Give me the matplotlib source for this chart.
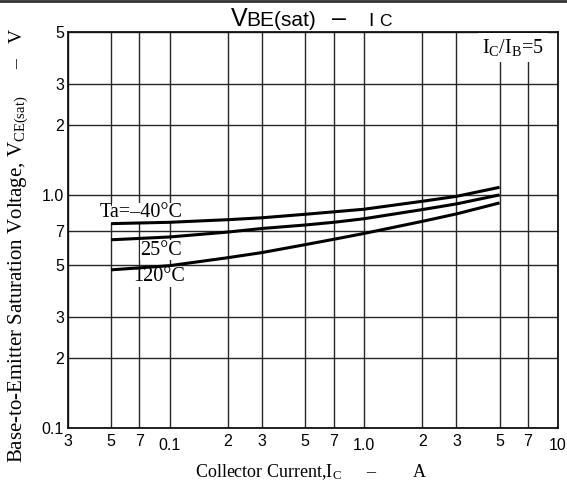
import matplotlib
matplotlib.use("Agg")
import matplotlib.pyplot as plt
from matplotlib.ticker import FixedLocator, FixedFormatter, NullFormatter

# ---- data ----
ic = [0.05, 0.1, 0.2, 0.3, 0.5, 0.7, 1.0, 2.0, 3.0, 5.0]
v_m40 = [0.753, 0.763, 0.783, 0.798, 0.826, 0.846, 0.868, 0.939, 0.986, 1.078]
v_25 = [0.642, 0.660, 0.693, 0.718, 0.743, 0.763, 0.790, 0.865, 0.915, 1.000]
v_120 = [0.477, 0.497, 0.538, 0.566, 0.612, 0.645, 0.683, 0.770, 0.829, 0.924]

x_major = [0.1, 1.0, 10.0]
x_major_labels = ["0.1", "1.0", "10"]
x_minor = [0.03, 0.05, 0.07, 0.2, 0.3, 0.5, 0.7, 2, 3, 5, 7]
x_minor_labels = ["3", "5", "7", "2", "3", "5", "7", "2", "3", "5", "7"]
y_ticks = [0.1, 0.2, 0.3, 0.5, 0.7, 1.0, 2, 3, 5]
y_labels = ["0.1", "2", "3", "5", "7", "1.0", "2", "3", "5"]

SANS = "Liberation Sans"
SERIF = "Liberation Serif"
W, H = 567, 488


def fx(px):
    return px / W


def fy(py):
    return 1 - py / H


fig = plt.figure(figsize=(W / 100, H / 100), dpi=100)
ax = fig.add_axes([fx(68), fy(428), (558 - 68) / W, (428 - 32) / H])
ax.set_xscale("log")
ax.set_yscale("log")
ax.set_xlim(0.03, 10)
ax.set_ylim(0.1, 5)

ax.xaxis.set_major_locator(FixedLocator(x_major))
ax.xaxis.set_major_formatter(FixedFormatter(x_major_labels))
ax.xaxis.set_minor_locator(FixedLocator(x_minor))
ax.xaxis.set_minor_formatter(FixedFormatter(x_minor_labels))
ax.yaxis.set_major_locator(FixedLocator(y_ticks))
ax.yaxis.set_major_formatter(FixedFormatter(y_labels))
ax.yaxis.set_minor_locator(FixedLocator([]))
ax.yaxis.set_minor_formatter(NullFormatter())

ax.tick_params(axis="x", which="major", length=0, pad=7, labelsize=11.5)
ax.tick_params(axis="x", which="minor", length=0, pad=4, labelsize=11.5)
ax.tick_params(axis="y", which="major", length=0, pad=3, labelsize=11.5)
for lab in ax.get_xticklabels(which="both") + ax.get_yticklabels():
    lab.set_fontfamily(SANS)

ax.grid(True, which="both", axis="x", color="#262626", lw=1.0)
ax.grid(True, which="major", axis="y", color="#262626", lw=1.0)
for s in ax.spines.values():
    s.set_linewidth(1.3)
    s.set_color("#111111")
ax.set_axisbelow(True)

lw = 2.2
ax.plot(ic, v_m40, color="black", lw=lw, zorder=3, solid_capstyle="butt")
ax.plot(ic, v_25, color="black", lw=lw, zorder=3, solid_capstyle="butt")
ax.plot(ic, v_120, color="black", lw=lw, zorder=3, solid_capstyle="butt")

bb = dict(facecolor="white", edgecolor="none", pad=0.3)
ax.text(0.0718, 0.838, "Ta=\u201340\u00b0C", family=SERIF, fontsize=14.5,
        ha="center", va="center", bbox=bb, zorder=2)
ax.text(0.0907, 0.58, "25\u00b0C", family=SERIF, fontsize=14.5,
        ha="center", va="center", bbox=bb, zorder=2)
ax.text(0.0886, 0.445, "120\u00b0C", family=SERIF, fontsize=14.5,
        ha="center", va="center", bbox=bb, zorder=2)
ax.text(5.88, 4.3, r"$\mathregular{I_C/I_B}$=5", family=SERIF, fontsize=14.5,
        ha="center", va="center", bbox=dict(facecolor="white", edgecolor="none", pad=3),
        zorder=2)

# title pieces (sans)
fig.text(fx(231), fy(26), "V", family=SANS, fontsize=18, ha="left", va="baseline")
fig.text(fx(246), fy(26.5), "BE(sat)", family=SANS, fontsize=15, ha="left", va="baseline")
fig.text(fx(339.5), fy(26), "\u2013", family=SANS, fontsize=18, ha="center", va="baseline")
fig.text(fx(368), fy(25.5), "I", family=SANS, fontsize=14, ha="left", va="baseline")
fig.text(fx(379), fy(26.5), "C", family=SANS, fontsize=12.5, ha="left", va="baseline")

# x label pieces (serif)
fig.text(fx(195), fy(476.7), r"Collector Current,$\mathregular{I_C}$", family=SERIF,
         fontsize=13, ha="left", va="baseline")
fig.text(fx(371), fy(476.7), "\u2013", family=SERIF, fontsize=13, ha="center", va="baseline")
fig.text(fx(419.5), fy(476.7), "A", family=SERIF, fontsize=13, ha="center", va="baseline")

# y label pieces (serif, rotated)
fig.text(fx(22), fy(463), r"Base-to-Emitter Saturation Voltage, $\mathregular{V_{CE(sat)}}$",
         family=SERIF, fontsize=15, ha="left", va="baseline", rotation=90,
         rotation_mode="anchor")
fig.text(fx(22), fy(64.5), "\u2013", family=SERIF, fontsize=14, ha="center", va="baseline",
         rotation=90, rotation_mode="anchor")
fig.text(fx(22), fy(36), "V", family=SERIF, fontsize=14, ha="center", va="baseline",
         rotation=90, rotation_mode="anchor")

fig.add_artist(plt.Line2D([0, 1], [fy(1), fy(1)], color="#333333", lw=2,
                          transform=fig.transFigure))

fig.savefig("out.png", dpi=100)
